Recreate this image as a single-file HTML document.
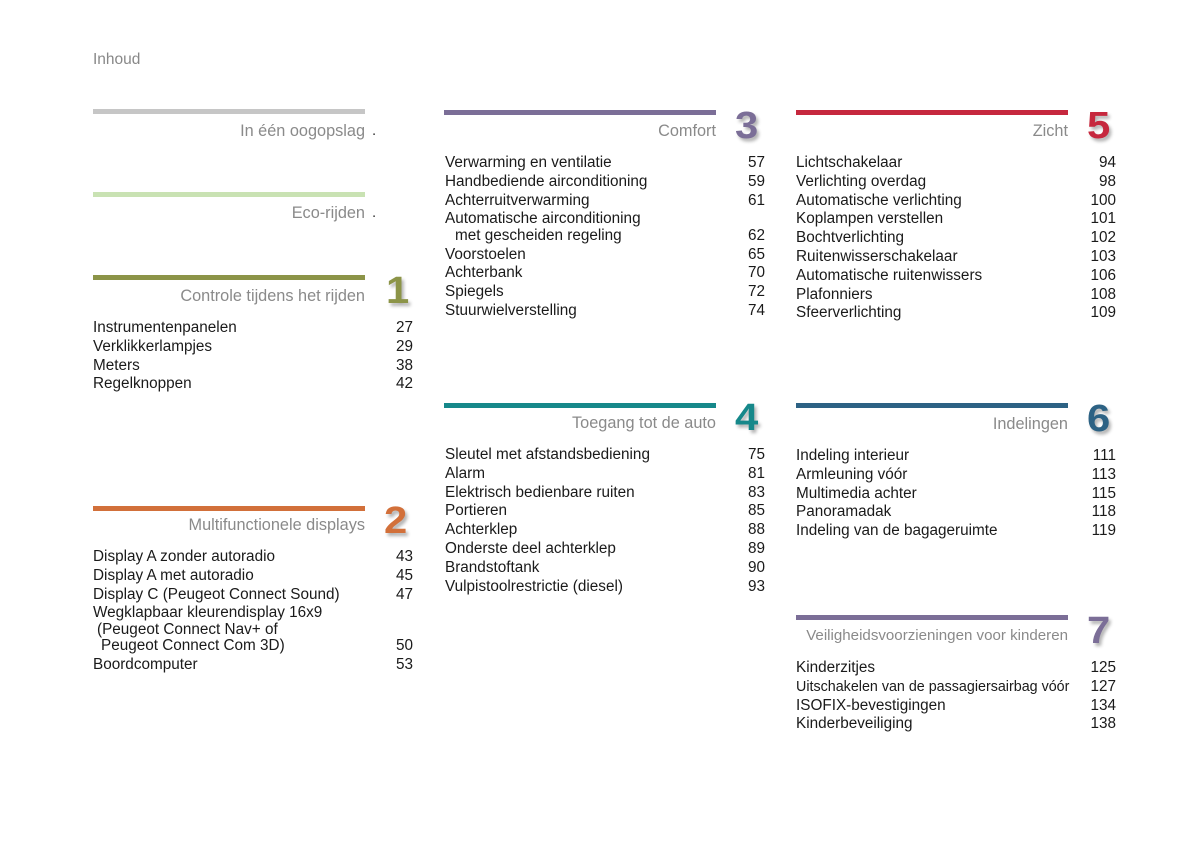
<!DOCTYPE html>
<html><head><meta charset="utf-8"><style>
body{margin:0;width:1191px;height:845px;background:#fff;position:relative;font-family:"Liberation Sans",sans-serif;color:#1a1a1a;overflow:hidden}
.a{position:absolute}
.bar{position:absolute;height:5px;width:272px}
.h{position:absolute;width:272px;text-align:right;font-size:16.3px;color:#8a8a8a;line-height:18px;white-space:nowrap}
.n{position:absolute;font-size:38px;font-weight:bold;line-height:38px;text-shadow:2px 3px 3px rgba(0,0,0,.3);transform:scaleX(1.1);transform-origin:left}
.list{position:absolute;width:320px;font-size:15.3px}
.list div{position:relative;line-height:16.5px;padding-bottom:2.3px;padding-right:50px;white-space:nowrap}
.list span{position:absolute;right:0;bottom:2.3px}
.i1{display:inline-block;padding-left:10px}
.i2{display:inline-block;padding-left:4px}
</style></head><body>
<div class="a" style="left:93px;top:51px;font-size:15.5px;color:#888">Inhoud</div>

<div class="bar" style="left:93px;top:109px;background:#c6c6c6"></div>
<div class="h" style="left:93px;top:122px">In één oogopslag</div>
<div class="a" style="left:372px;top:122px;font-size:15px;color:#333">.</div>
<div class="bar" style="left:93px;top:192px;background:#c9e2b3"></div>
<div class="h" style="left:93px;top:204px">Eco-rijden</div>
<div class="a" style="left:372px;top:204px;font-size:15px;color:#333">.</div>

<div class="bar" style="left:93px;top:275px;background:#8c9448"></div>
<div class="h" style="left:93px;top:287px">Controle tijdens het rijden</div>
<div class="n" style="left:386px;top:272px;color:#8c9448">1</div>
<div class="list" style="left:93px;top:320px">
<div>Instrumentenpanelen<span>27</span></div><div>Verklikkerlampjes<span>29</span></div><div>Meters<span>38</span></div><div>Regelknoppen<span>42</span></div></div>

<div class="bar" style="left:93px;top:506px;background:#d2703a"></div>
<div class="h" style="left:93px;top:516px">Multifunctionele displays</div>
<div class="n" style="left:384px;top:502px;color:#d2703a">2</div>
<div class="list" style="left:93px;top:549px">
<div>Display A zonder autoradio<span>43</span></div><div>Display A met autoradio<span>45</span></div><div>Display C (Peugeot Connect Sound)<span>47</span></div><div>Wegklapbaar kleurendisplay 16x9<br><i class="i2" style="font-style:normal">(Peugeot Connect Nav+ of</i><br><i class="i2" style="font-style:normal;padding-left:8px">Peugeot Connect Com 3D)</i><span>50</span></div><div>Boordcomputer<span>53</span></div></div>

<div class="bar" style="left:444px;top:110px;background:#7b6e97"></div>
<div class="h" style="left:444px;top:122px">Comfort</div>
<div class="n" style="left:735px;top:107px;color:#7b6e97">3</div>
<div class="list" style="left:445px;top:155px">
<div>Verwarming en ventilatie<span>57</span></div><div>Handbediende airconditioning<span>59</span></div><div>Achterruitverwarming<span>61</span></div><div>Automatische airconditioning<br><i class="i1" style="font-style:normal">met gescheiden regeling</i><span>62</span></div><div>Voorstoelen<span>65</span></div><div>Achterbank<span>70</span></div><div>Spiegels<span>72</span></div><div>Stuurwielverstelling<span>74</span></div></div>

<div class="bar" style="left:444px;top:403px;background:#16888a"></div>
<div class="h" style="left:444px;top:414px">Toegang tot de auto</div>
<div class="n" style="left:735px;top:399px;color:#16888a">4</div>
<div class="list" style="left:445px;top:447px">
<div>Sleutel met afstandsbediening<span>75</span></div><div>Alarm<span>81</span></div><div>Elektrisch bedienbare ruiten<span>83</span></div><div>Portieren<span>85</span></div><div>Achterklep<span>88</span></div><div>Onderste deel achterklep<span>89</span></div><div>Brandstoftank<span>90</span></div><div>Vulpistoolrestrictie (diesel)<span>93</span></div></div>

<div class="bar" style="left:796px;top:110px;background:#c6283e"></div>
<div class="h" style="left:796px;top:122px">Zicht</div>
<div class="n" style="left:1087px;top:107px;color:#c6283e">5</div>
<div class="list" style="left:796px;top:155px">
<div>Lichtschakelaar<span>94</span></div><div>Verlichting overdag<span>98</span></div><div>Automatische verlichting<span>100</span></div><div>Koplampen verstellen<span>101</span></div><div>Bochtverlichting<span>102</span></div><div>Ruitenwisserschakelaar<span>103</span></div><div>Automatische ruitenwissers<span>106</span></div><div>Plafonniers<span>108</span></div><div>Sfeerverlichting<span>109</span></div></div>

<div class="bar" style="left:796px;top:403px;background:#2d6284"></div>
<div class="h" style="left:796px;top:415px">Indelingen</div>
<div class="n" style="left:1087px;top:400px;color:#2d6284">6</div>
<div class="list" style="left:796px;top:448px">
<div>Indeling interieur<span>111</span></div><div>Armleuning vóór<span>113</span></div><div>Multimedia achter<span>115</span></div><div>Panoramadak<span>118</span></div><div>Indeling van de bagageruimte<span>119</span></div></div>

<div class="bar" style="left:796px;top:615px;background:#7b6e97"></div>
<div class="h" style="left:796px;top:627px;font-size:15.1px">Veiligheidsvoorzieningen voor kinderen</div>
<div class="n" style="left:1087px;top:612px;color:#7b6e97">7</div>
<div class="list" style="left:796px;top:660px">
<div>Kinderzitjes<span>125</span></div><div style="font-size:14.3px">Uitschakelen van de passagiersairbag vóór<span style="font-size:15.3px">127</span></div><div>ISOFIX-bevestigingen<span>134</span></div><div>Kinderbeveiliging<span>138</span></div></div>
</body></html>
